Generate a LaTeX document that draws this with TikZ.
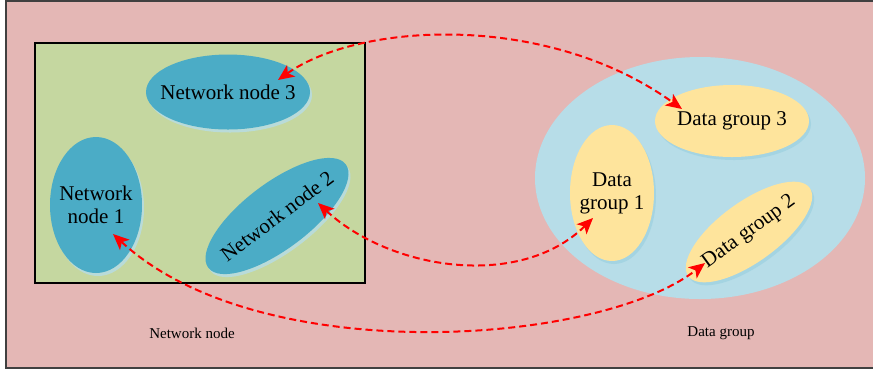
\documentclass[tikz,border=0pt]{standalone}
\usepackage{fontspec}
\setmainfont{Liberation Serif}
\usetikzlibrary{arrows.meta, shapes.geometric, shadows}

\definecolor{panelpink}{HTML}{E4B7B5}
\definecolor{panelgreen}{HTML}{C5D7A0}
\definecolor{nodeblue}{HTML}{4BACC6}
\definecolor{grouplight}{HTML}{B7DDE8}
\definecolor{groupyellow}{HTML}{FEE49C}

\begin{document}
\begin{tikzpicture}[x=0.5pt, y=-0.5pt,
	netnode/.style={ellipse, fill=nodeblue, inner sep=0pt,
		drop shadow={shadow xshift=1pt, shadow yshift=-1.5pt, fill=grouplight, opacity=0.8}},
	datanode/.style={ellipse, fill=groupyellow, inner sep=0pt,
		drop shadow={shadow xshift=1pt, shadow yshift=-1.5pt, fill=nodeblue!60, opacity=0.5}},
	every label/.style={align=center, inner sep=0pt, font=\fontsize{10.5}{11.5}\selectfont},
	caption/.style={font=\fontsize{7.5}{9}\selectfont},
	link/.style={red, line width=1pt, dash pattern=on 3.5pt off 2pt,
		{Stealth[length=8pt, width=7pt, inset=2pt]}-{Stealth[length=8pt, width=7pt, inset=2pt]}}]
\useasboundingbox (0,0) rectangle (873,372);
\fill [white] (0,0) rectangle (873,372);

% background panel
\fill [panelpink] (5,0) rectangle (873,368);
\draw [line width=1pt, black!75] (873,0.5) -- (5.5,0.5) -- (5.5,367.5) -- (873,367.5);

% network side
\draw [line width=0.8pt, fill=panelgreen] (35,43) rectangle (365,283);
\node [netnode, minimum width=82pt, minimum height=75pt/2,
	label={center:Network node 3}] (nn3) at (228,92) {};
\node [netnode, minimum width=46pt, minimum height=68pt,
	label={center:Network\\node 1}] (nn1) at (96,205) {};
\node [netnode, minimum width=86pt, minimum height=33pt, rotate=37,
	label={[rotate=37]center:Network node 2}] (nn2) at (277,216) {};
\node [caption] (nlabel) at (192,333) {Network node};

% data side
\node [ellipse, fill=grouplight, minimum width=165pt, minimum height=121pt] (dgall) at (700,178) {};
\node [datanode, minimum width=77pt, minimum height=36pt,
	label={center:Data group 3}] (dg3) at (732,121) {};
\node [datanode, minimum width=42pt, minimum height=68pt,
	label={center:Data\\group 1}] (dg1) at (612,193) {};
\node [datanode, minimum width=75pt, minimum height=30pt, rotate=36,
	label={[rotate=36]center:Data group 2}] (dg2) at (749,232) {};
\node [caption] (dlabel) at (721,333) {Data group};

% link ends
\coordinate (a3) at ([shift={(50,-12)}]nn3.center);
\coordinate (b3) at ([shift={(-50,-12)}]dg3.center);
\coordinate (a2) at ([shift={(41,-13)}]nn2.center);
\coordinate (b1) at ([shift={(-19,25)}]dg1.center);
\coordinate (a1) at ([shift={(17,29)}]nn1.center);
\coordinate (b2) at ([shift={(-44,31)}]dg2.center);

\draw [link] (a3) .. controls (360,22) and (547,12) .. (b3);
\draw [link] (a2) .. controls (390,270) and (520,290) .. (b1);
\draw [link] (a1) .. controls (260,370) and (600,345) .. (b2);
\end{tikzpicture}
\end{document}
